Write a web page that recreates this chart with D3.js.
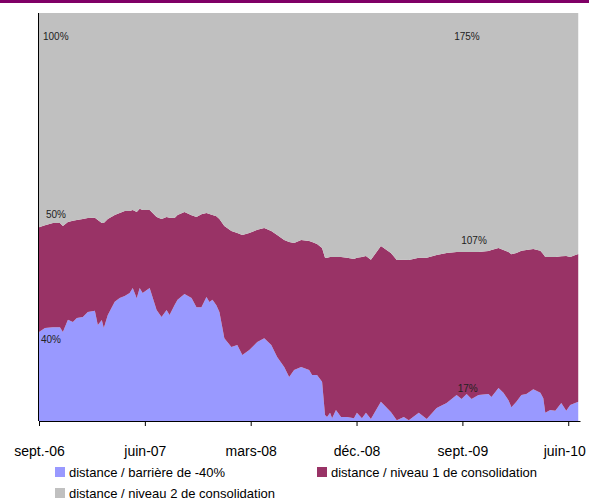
<!DOCTYPE html>
<html>
<head>
<meta charset="utf-8">
<script src="https://d3js.org/d3.v7.min.js"></script>
<style>
  body { margin: 0; background: #fff; }
  svg { display: block; }
  * { font-family: 'Liberation Sans', Arial, sans-serif; }
</style>
</head>
<body>
<div id="chart"></div>
<script>
  // months since sept. 2006
  var months = [0,0.51,1.19,1.78,2.03,2.46,2.88,3.22,3.73,4.15,4.75,5.00,5.34,5.51,5.85,6.44,6.86,7.29,7.71,7.97,
    8.31,8.56,8.81,9.41,10.0,10.42,10.85,11.10,11.53,11.78,12.37,12.97,13.39,13.81,14.24,14.49,14.75,15.08,15.34,15.76,
    16.36,16.86,17.29,17.88,18.31,18.56,19.15,19.75,20.25,20.85,21.27,21.69,22.29,22.97,23.22,23.64,24.07,24.32,24.49,24.75,
    24.92,25.25,25.68,26.19,26.78,27.03,27.46,27.80,28.22,29.07,29.92,30.42,31.02,31.44,32.29,32.97,33.81,34.66,35.51,35.93,
    36.36,36.78,37.37,38.22,38.47,39.07,39.49,39.92,40.17,40.59,41.02,41.44,42.03,42.63,42.88,43.05,43.47,43.90,44.41,44.83,
    45.17,45.85];

  // share of each distance in the stack (%)
  var barriere = [21.8,22.8,23.0,23.0,21.8,24.8,24.3,25.2,25.5,26.7,
    27.0,23.5,24.8,22.8,26.0,29.2,30.1,30.6,31.4,32.6,
    30.1,32.6,31.4,32.6,27.2,25.5,27.2,26.0,28.4,29.7,
    31.1,30.1,27.9,27.9,30.4,29.2,29.7,28.4,26.7,20.3,
    18.1,18.6,16.2,17.4,18.6,19.4,20.3,18.6,15.7,13.2,
    10.8,12.5,13.2,12.5,11.3,11.3,9.6,1.5,1.0,2.0,
    0.7,2.7,1.0,1.0,0.7,2.0,0.7,2.0,0.5,4.7,
    2.2,0.2,1.0,0.2,2.0,0.5,3.2,4.4,6.4,5.4,
    6.6,5.4,6.4,6.6,5.9,8.1,6.9,5.1,3.4,4.7,
    6.4,6.6,7.8,6.9,5.6,2.0,2.7,2.5,4.4,2.5,
    3.9,4.7];

  var niveau1 = [25.7,25.2,25.5,25.5,26.0,24.0,24.8,24.0,24.0,23.0,
    22.8,25.7,23.8,25.7,23.5,21.3,20.8,20.8,20.1,19.1,
    21.1,19.4,20.3,19.1,22.8,24.0,22.8,23.8,21.3,20.8,
    20.1,20.3,22.1,22.8,20.6,21.6,20.8,21.8,22.8,27.5,
    28.4,27.5,29.4,28.7,27.9,27.5,27.0,27.9,29.9,31.1,
    33.1,31.1,31.1,31.6,32.6,32.1,32.8,38.5,39.0,38.2,
    39.5,37.5,39.2,39.0,39.0,38.0,39.5,38.5,39.0,38.2,
    39.0,39.2,38.5,39.2,38.0,39.5,37.5,36.8,35.0,36.0,
    34.8,36.0,35.0,35.0,36.0,34.3,35.0,36.3,37.5,36.5,
    35.3,35.3,34.3,34.8,35.3,38.2,37.5,37.7,36.0,38.0,
    36.3,36.3];

  var niveau2 = [52.5,52.0,51.5,51.5,52.2,51.2,51.0,50.7,50.5,50.2,
    50.2,50.7,51.5,51.5,50.5,49.5,49.0,48.5,48.5,48.3,
    48.8,48.0,48.3,48.3,50.0,50.5,50.0,50.2,50.2,49.5,
    48.8,49.5,50.0,49.3,49.0,49.3,49.5,49.8,50.5,52.2,
    53.4,53.9,54.4,53.9,53.4,53.2,52.7,53.4,54.4,55.6,
    56.1,56.4,55.6,55.9,56.1,56.6,57.6,60.0,60.0,59.8,
    59.8,59.8,59.8,60.0,60.3,60.0,59.8,59.6,60.5,57.1,
    58.8,60.5,60.5,60.5,60.0,60.0,59.3,58.8,58.6,58.6,
    58.6,58.6,58.6,58.3,58.1,57.6,58.1,58.6,59.1,58.8,
    58.3,58.1,57.8,58.3,59.1,59.8,59.8,59.8,59.6,59.6,
    59.8,59.1];

  var tickMonths = [0, 9, 18, 27, 36, 45];
  var tickLabels = ["sept.-06", "juin-07", "mars-08", "déc.-08", "sept.-09", "juin-10"];

  var keys = ["barriere", "niveau1", "niveau2"];
  var seriesNames = ["distance / barrière de -40%", "distance / niveau 1 de consolidation", "distance / niveau 2 de consolidation"];
  var seriesColors = ["#9999ff", "#993366", "#c0c0c0"];

  // value labels placed in data coordinates (month, share %)
  var noteText = ["100%", "175%", "50%", "107%", "40%", "17%"];
  var noteMonth = [0.34, 35.3, 0.59, 35.9, 0.17, 35.6];
  var noteLevel = [93.4, 93.4, 49.8, 43.4, 19.1, 7.1];

  var W = 589, H = 503;
  var margin = { top: 13, right: 9, bottom: 82, left: 39 },
    width = W - margin.left - margin.right,
    height = H - margin.top - margin.bottom;

  var data = months.map(function (m, i) {
    return { month: m, barriere: barriere[i], niveau1: niveau1[i], niveau2: niveau2[i] };
  });

  var svg = d3.select("#chart")
    .append("svg")
    .attr("width", W)
    .attr("height", H);

  // purple rule along the top
  svg.append("rect")
    .attr("x", 0).attr("y", 0)
    .attr("width", W).attr("height", 3)
    .attr("fill", "#800066");

  var g = svg.append("g")
    .attr("transform", "translate(" + margin.left + "," + margin.top + ")");

  var x = d3.scaleLinear()
    .domain([0, 46])
    .range([0, width]);

  var y = d3.scaleLinear()
    .domain([0, 1])
    .range([height, 0]);

  var stacked = d3.stack()
    .keys(keys)
    .offset(d3.stackOffsetExpand)(data);

  var area = d3.area()
    .x(function (d) { return x(d.data.month); })
    .y0(function (d) { return y(d[0]); })
    .y1(function (d) { return y(d[1]); });

  g.selectAll("path.layer")
    .data(stacked)
    .enter()
    .append("path")
    .attr("class", "layer")
    .attr("fill", function (d, i) { return seriesColors[i]; })
    .attr("d", area);

  // notes
  g.selectAll("text.note")
    .data(noteText)
    .enter()
    .append("text")
    .attr("class", "note")
    .attr("x", function (d, i) { return x(noteMonth[i]); })
    .attr("y", function (d, i) { return y(noteLevel[i] / 100); })
    .style("font-size", "10px")
    .attr("fill", "#222")
    .text(function (d) { return d; });

  // axes
  var xAxis = g.append("g")
    .attr("transform", "translate(0," + height + ")")
    .call(d3.axisBottom(x)
      .tickValues(tickMonths)
      .tickFormat(function (d, i) { return tickLabels[i]; })
      .tickSize(5)
      .tickSizeOuter(0)
      .tickPadding(20));
  xAxis.selectAll("text").style("font-size", "14px").attr("fill", "#000");
  // keep the last label inside the frame
  xAxis.selectAll("text").filter(function (d, i) { return i === tickMonths.length - 1; })
    .attr("dx", "-4");
  xAxis.select(".domain").attr("stroke", "#000");
  xAxis.selectAll(".tick line").attr("stroke", "#000");

  g.append("line")
    .attr("x1", -0.5).attr("x2", -0.5)
    .attr("y1", 0).attr("y2", height)
    .attr("stroke", "#000");

  // legend
  var legPos = [[55, 467], [317, 467], [55, 488]];
  var leg = svg.selectAll("g.leg")
    .data(seriesNames)
    .enter()
    .append("g")
    .attr("class", "leg")
    .attr("transform", function (d, i) { return "translate(" + legPos[i][0] + "," + legPos[i][1] + ")"; });
  leg.append("rect")
    .attr("width", 10).attr("height", 10)
    .attr("fill", function (d, i) { return seriesColors[i]; });
  leg.append("text")
    .attr("x", 14)
    .attr("y", 10)
    .style("font-size", "13px")
    .attr("fill", "#000")
    .text(function (d) { return d; });
</script>
</body>
</html>
